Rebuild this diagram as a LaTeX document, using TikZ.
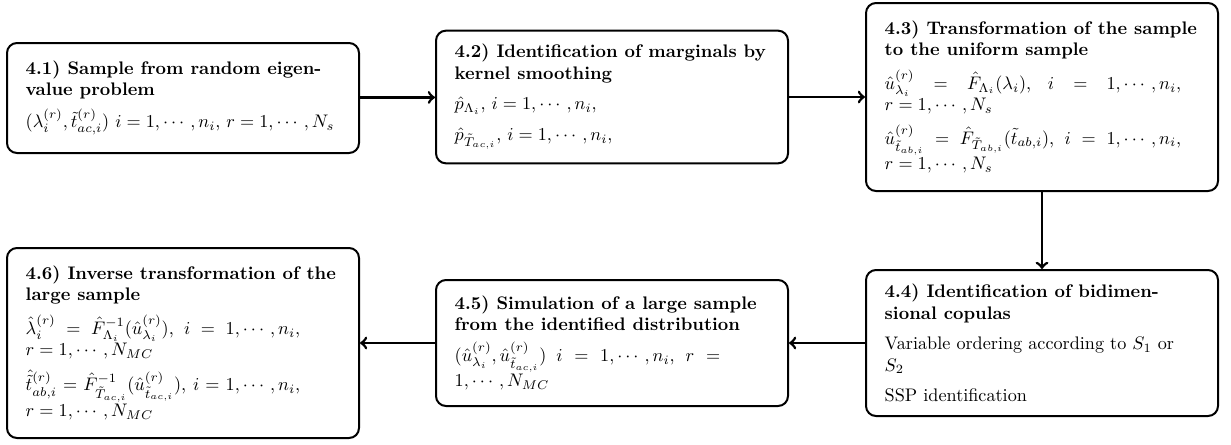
\documentclass[tikz,border=0pt]{standalone}
\usepackage{amsmath}
\usepackage{tikz}
\usepackage{amsfonts}
\usepackage{amssymb}
\usetikzlibrary{calc}

\begin{document}
\begin{tikzpicture}[x=0.55pt,y=0.55pt,yscale=-1,xscale=1,
  stepbox/.style={draw, line width=1.1pt, rounded corners=5.5pt, align=justify,
    text width=173pt, inner xsep=10.3pt, inner ysep=4pt,
    font=\fontsize{10}{11.8}\selectfont},
  flow/.style={->, line width=1.5pt}]
\useasboundingbox (0,0) rectangle (1231,444);
%Box 4.1
\node [stepbox, minimum height=60.5pt] (sample) at (183,98) {{\raggedright\textbf{4.1) Sample from random eigen-\\value problem}\par}\vspace{4pt}
  $(\lambda_i^{(r)},\tilde{t}^{(r)}_{ac,i})$ $i=1,\cdots,n_i$, $r=1,\cdots,N_s$};
%Box 4.2
\node [stepbox, minimum height=73pt] (marginals) at (612,97) {{\raggedright\textbf{4.2) Identification of marginals by\\kernel smoothing}\par}\vspace{5pt}
  $\hat{p}_{\Lambda_i}$, $i=1,\cdots,n_i$,\par\vspace{5pt}
  $\hat{p}_{\tilde{T}_{ac,i}}$, $i=1,\cdots,n_i$,};
%Box 4.3
\node [stepbox, minimum height=103.4pt] (uniform) at (1042,97) {{\raggedright\textbf{4.3) Transformation of the sample\\to the uniform sample}\par}\vspace{5pt}
  \rightskip=10pt
  $\hat{u}^{(r)}_{\lambda_i}=\hat{F}_{\Lambda_i}(\lambda_i)$, $i=1,\cdots,n_i$,\linebreak $r=1,\cdots,N_s$\par\vspace{5pt}
  $\hat{u}^{(r)}_{\tilde{t}_{ab,i}}=\hat{F}_{\tilde{T}_{ab,i}}(\tilde{t}_{ab,i})$, $i=1,\cdots,n_i$,\linebreak $r=1,\cdots,N_s$\par};
%Box 4.4
\node [stepbox, minimum height=80.3pt] (copulas) at (1042,343) {{\raggedright\textbf{4.4) Identification of bidimen-\\sional copulas}\par}\vspace{5pt}
  Variable ordering according to $S_1$ or\newline $S_2$\par\vspace{5pt}
  SSP identification};
%Box 4.5
\node [stepbox, minimum height=69.3pt] (simulation) at (612,343) {{\raggedright\textbf{4.5) Simulation of a large sample\\from the identified distribution}\par}\vspace{5pt}
  \rightskip=27pt
  $(\hat{u}^{(r)}_{\lambda_i},\hat{u}^{(r)}_{\tilde{t}_{ac,i}})$ $i=1,\cdots,n_i$, $r=$\linebreak $1,\cdots,N_{MC}$\par};
%Box 4.6
\node [stepbox, minimum height=104.5pt] (inverse) at (183,343) {{\raggedright\textbf{4.6) Inverse transformation of the\\large sample}\par}\vspace{5pt}
  \rightskip=22pt
  $\hat{\lambda}_i^{(r)}=\hat{F}^{-1}_{\Lambda_i}(\hat{u}^{(r)}_{\lambda_i})$, $i=1,\cdots,n_i$,\linebreak $r=1,\cdots,N_{MC}$\par\vspace{5pt}
  $\hat{\tilde{t}}^{(r)}_{ab,i}=\hat{F}^{-1}_{\tilde{T}_{ac,i}}(\hat{u}^{(r)}_{\tilde{t}_{ac,i}})$, $i=1,\cdots,n_i$,\linebreak $r=1,\cdots,N_{MC}$\par};
%Straight Lines
\draw [flow] (sample) -- (marginals);
\draw [flow] (marginals) -- (uniform);
\draw [flow] (uniform) -- (copulas);
\draw [flow] (copulas) -- (simulation);
\draw [flow] (simulation) -- (inverse);
\end{tikzpicture}
\end{document}
